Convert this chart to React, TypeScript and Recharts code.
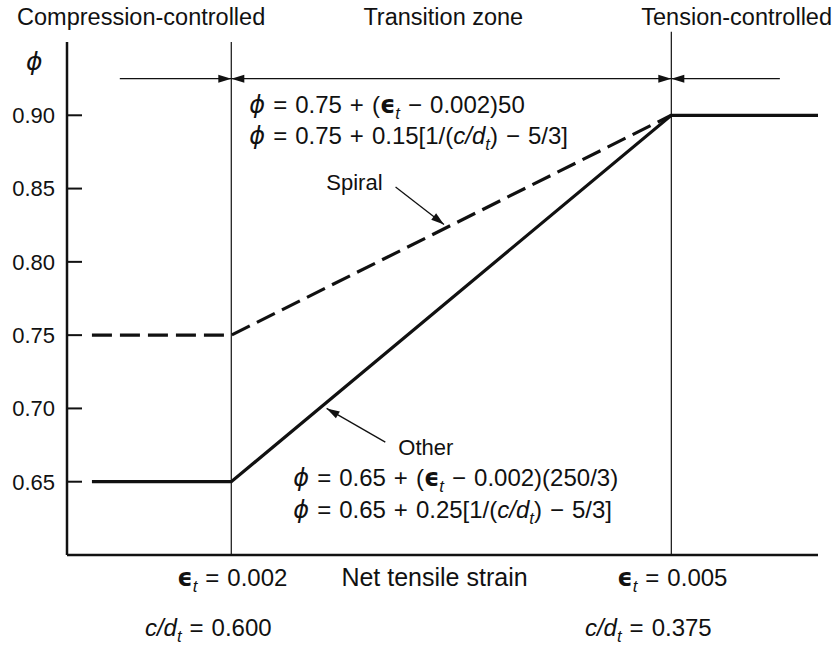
import React from "react";
import { LineChart, Line, XAxis, YAxis, ReferenceLine, ReferenceDot, Label } from "recharts";

const FONT = '"Liberation Sans", Arial, Helvetica, sans-serif';
const PHI = "ϕ";
const SP = "\u2004"; // slightly wider space, like the math spacing in the print

// net tensile strain on x, strength reduction factor phi on y
const strainDomain = [0.00088, 0.006];
const phiDomain = [0.6, 0.95];
const phiTicks = [0.65, 0.7, 0.75, 0.8, 0.85, 0.9];
const strainTicks = [0.002, 0.005];
const strainTickLabels = ["0.002", "0.005"];
const depthRatioLabels = ["0.600", "0.375"];

const spiralStrain = [0.00105, 0.002, 0.005];
const spiralPhi = [0.75, 0.75, 0.9];
const otherStrain = [0.00105, 0.002, 0.005, 0.006];
const otherPhi = [0.65, 0.65, 0.9, 0.9];

const zoneNames = ["Compression-controlled", "Transition zone", "Tension-controlled"];
const zoneEdges = [0.00088, 0.002, 0.005, 0.006];

const spiralData = spiralStrain.map((x, i) => ({ x, phi: spiralPhi[i] }));
const otherData = otherStrain.map((x, i) => ({ x, phi: otherPhi[i] }));

type Seg = [string, string?];

// text with italic / bold / subscript / symbol pieces
function Rich({ x, y, segs, size = 22, anchor = "start" }: any) {
  let low = false;
  const shift = size * 0.25;
  return (
    <text x={x} y={y} fontSize={size} fontFamily={FONT} textAnchor={anchor} fill="#111" style={{ whiteSpace: "pre" }}>
      {segs.map(([s, f = ""]: Seg, k: number) => {
        const sub = f.includes("s");
        const dy = sub && !low ? shift : !sub && low ? -shift : 0;
        low = sub;
        return (
          <tspan
            key={k}
            dy={dy || undefined}
            fontStyle={f.includes("i") ? "italic" : undefined}
            fontWeight={f.includes("b") ? "bold" : undefined}
            fontFamily={f.includes("g") ? '"DejaVu Sans", sans-serif' : undefined}
            fontSize={sub ? size * 0.7 : undefined}
          >
            {s}
          </tspan>
        );
      })}
    </text>
  );
}

function headPoints(x1: number, y1: number, x2: number, y2: number, len = 13, half = 4) {
  const a = Math.atan2(y2 - y1, x2 - x1);
  const bx = x2 - len * Math.cos(a);
  const by = y2 - len * Math.sin(a);
  const px = -Math.sin(a) * half;
  const py = Math.cos(a) * half;
  return `${x2},${y2} ${bx + px},${by + py} ${bx - px},${by - py}`;
}

const arrowShape = (heads: "start" | "end" | "both", width = 1.2) => (p: any) => (
  <g>
    <line x1={p.x1} y1={p.y1} x2={p.x2} y2={p.y2} stroke="#111" strokeWidth={width} />
    {heads !== "start" && <polygon points={headPoints(p.x1, p.y1, p.x2, p.y2)} fill="#111" />}
    {heads !== "end" && <polygon points={headPoints(p.x2, p.y2, p.x1, p.y1)} fill="#111" />}
  </g>
);

// a text note pinned to a data point
const note = (key: string, x: number, y: number, dx: number, dy: number, segs: Seg[], size = 22, anchor = "start") => (
  <ReferenceDot
    key={key}
    x={x}
    y={y}
    r={0}
    fill="none"
    stroke="none"
    label={{
      content: (props: any) => (
        <Rich x={props.viewBox.x + dx} y={props.viewBox.y + dy} segs={segs} size={size} anchor={anchor} />
      ),
    }}
  />
);

const eq = (a: string) => `${SP}=${SP}${a}`;

function PhiTick({ x, y, payload }: any) {
  return (
    <g>
      <line x1={x + 12} x2={x + 27} y1={y} y2={y} stroke="#111" strokeWidth={2} />
      <text x={x} y={y} dy="0.36em" textAnchor="end" fontSize={22} fontFamily={FONT} fill="#111">
        {payload.value.toFixed(2)}
      </text>
    </g>
  );
}

function StrainTick({ x, y, payload }: any) {
  const i = strainTicks.indexOf(payload.value);
  return (
    <g>
      <Rich x={x + 1} y={y + 31} size={24} anchor="middle" segs={[["ϵ", "bg"], ["t", "is"], [eq(strainTickLabels[i])]]} />
      <Rich x={x - 23} y={y + 81} size={24} anchor="middle" segs={[["c/d", "i"], ["t", "is"], [eq(depthRatioLabels[i])]]} />
    </g>
  );
}

export default function App() {
  return (
    <div style={{ position: "absolute", left: 0, top: 0, width: 838, height: 647, background: "#fff" }}>
      <LineChart width={838} height={647} margin={{ top: 42, right: 20, bottom: 62, left: 7 }}>
        <XAxis
          type="number"
          dataKey="x"
          domain={strainDomain}
          allowDataOverflow
          ticks={strainTicks}
          tick={<StrainTick />}
          tickLine={false}
          tickSize={0}
          tickMargin={0}
          height={30}
          axisLine={{ stroke: "#111", strokeWidth: 2.5 }}
        >
          <Label
            content={(props: any) => (
              <text
                x={props.viewBox.x + props.viewBox.width / 2 - 8}
                y={props.viewBox.y + 31}
                textAnchor="middle"
                fontSize={25}
                fontFamily={FONT}
                fill="#111"
              >
                Net tensile strain
              </text>
            )}
          />
        </XAxis>
        <YAxis
          type="number"
          dataKey="phi"
          domain={phiDomain}
          allowDataOverflow
          ticks={phiTicks}
          tick={<PhiTick />}
          tickLine={false}
          tickSize={0}
          tickMargin={12}
          width={60}
          axisLine={{ stroke: "#111", strokeWidth: 2.5 }}
        />

        {/* zone boundaries */}
        <ReferenceLine x={strainTicks[0]} stroke="#111" strokeWidth={1.2} />
        <ReferenceLine
          segment={[{ x: strainTicks[1], y: 0.6 }, { x: strainTicks[1], y: 0.957 }]}
          ifOverflow="visible"
          stroke="#111"
          strokeWidth={1.2}
        />

        {/* zone titles and dimension arrows */}
        {zoneNames.map((name, i) =>
          note("z" + i, (zoneEdges[i] + zoneEdges[i + 1]) / 2, 0.95, -8, -17, [[name]], 23.5, "middle")
        )}
        <ReferenceLine segment={[{ x: 0.00124, y: 0.925 }, { x: 0.002, y: 0.925 }]} shape={arrowShape("end")} />
        <ReferenceLine segment={[{ x: 0.002, y: 0.925 }, { x: 0.005, y: 0.925 }]} shape={arrowShape("both")} />
        <ReferenceLine segment={[{ x: 0.005, y: 0.925 }, { x: 0.00574, y: 0.925 }]} shape={arrowShape("start")} />

        <Line data={otherData} dataKey="phi" type="linear" stroke="#111" strokeWidth={3.2} dot={false} isAnimationActive={false} />
        <Line
          data={spiralData}
          dataKey="phi"
          type="linear"
          stroke="#111"
          strokeWidth={3.2}
          strokeDasharray="20 8"
          dot={false}
          isAnimationActive={false}
        />

        {/* pointers to the two curves */}
        <ReferenceLine segment={[{ x: 0.00312, y: 0.851 }, { x: 0.00345, y: 0.8255 }]} shape={arrowShape("end", 1.3)} />
        <ReferenceLine segment={[{ x: 0.00305, y: 0.677 }, { x: 0.00265, y: 0.7 }]} shape={arrowShape("end", 1.3)} />

        {note("phi", 0.00088, 0.95, -41, 28, [[PHI, "ig"]], 25)}
        {note("spiral", 0.002, 0.9, 95, 75, [["Spiral"]])}
        {note("f1", 0.002, 0.9, 18, -2, [[PHI, "ig"], [eq(`0.75${SP}+${SP}(`)], ["ϵ", "bg"], ["t", "is"], [`${SP}−${SP}0.002)50`]], 24)}
        {note("f2", 0.002, 0.9, 18, 29, [[PHI, "ig"], [eq(`0.75${SP}+${SP}0.15[1/(`)], ["c/d", "i"], ["t", "is"], [`)${SP}−${SP}5/3]`]], 24)}
        {note("other", 0.002, 0.65, 167, -27, [["Other"]])}
        {note("f3", 0.002, 0.65, 62, 4, [[PHI, "ig"], [eq(`0.65${SP}+${SP}(`)], ["ϵ", "bg"], ["t", "is"], [`${SP}−${SP}0.002)(250/3)`]], 24)}
        {note("f4", 0.002, 0.65, 62, 36, [[PHI, "ig"], [eq(`0.65${SP}+${SP}0.25[1/(`)], ["c/d", "i"], ["t", "is"], [`)${SP}−${SP}5/3]`]], 24)}
      </LineChart>
    </div>
  );
}
